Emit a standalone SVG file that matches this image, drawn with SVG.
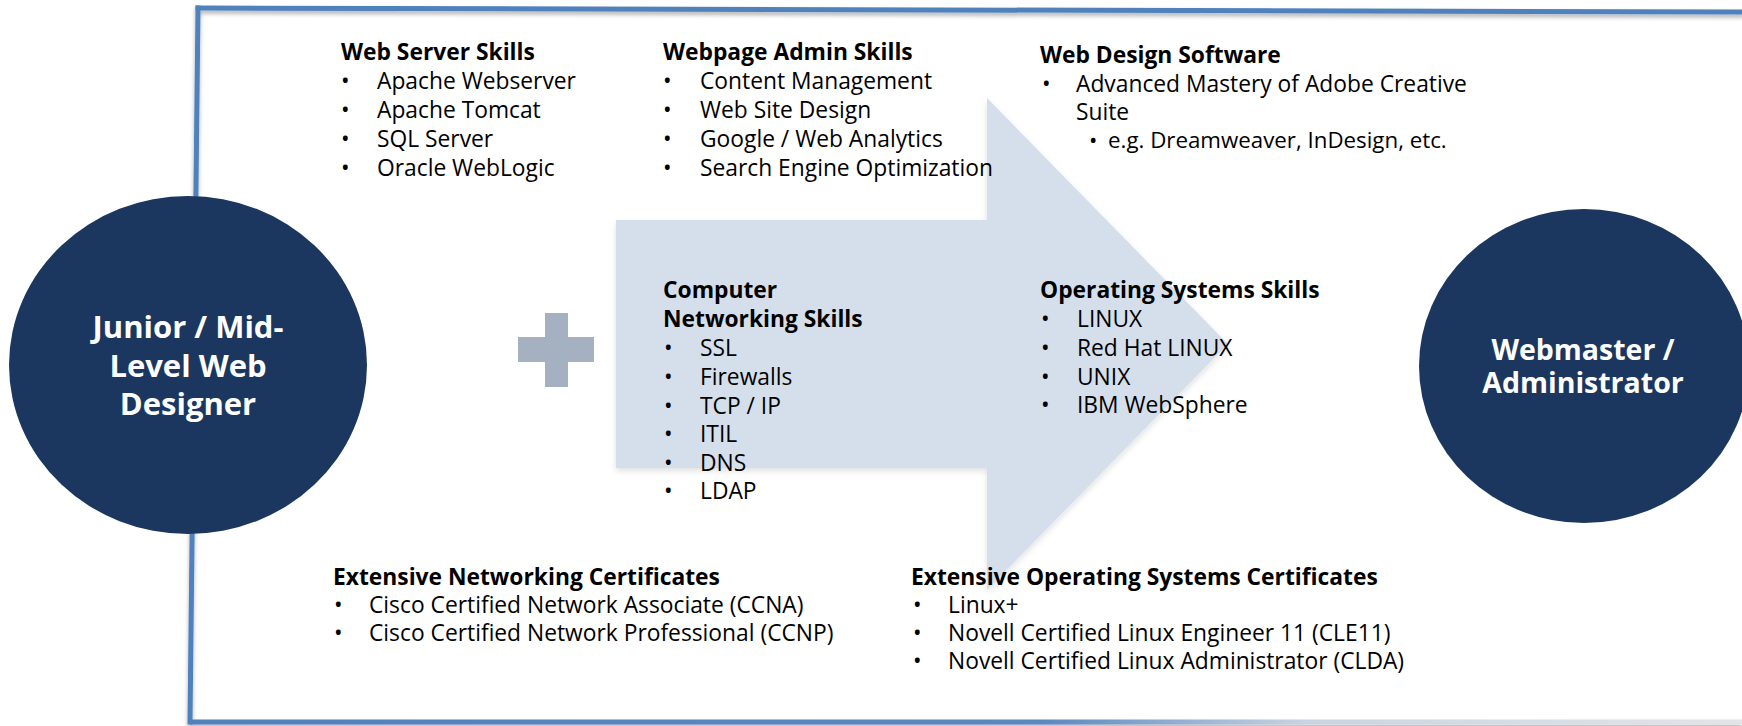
<svg xmlns="http://www.w3.org/2000/svg" width="1742" height="726" viewBox="0 0 1742 726">
<defs>
<style>
.t{font-family:"Open Sans","Noto Sans","Liberation Sans",sans-serif;font-size:22.8px;fill:#000}
.h{font-weight:700}
.s{font-size:22.3px}
.c{font-family:"Open Sans","Noto Sans","Liberation Sans",sans-serif;font-weight:700;fill:#fff;text-anchor:middle}
.node{fill:#1B375F}
.fr{fill:none;stroke:#4F81BD;stroke-width:5;stroke-linecap:square}
</style>
<filter id="sh" x="-5%" y="-50%" width="110%" height="200%">
<feDropShadow dx="0" dy="3" stdDeviation="2" flood-color="#000" flood-opacity="0.3"/>
</filter>
<filter id="ash" x="-5%" y="-5%" width="110%" height="115%">
<feDropShadow dx="0" dy="3" stdDeviation="3" flood-color="#000" flood-opacity="0.12"/>
</filter>
<linearGradient id="bot" gradientUnits="userSpaceOnUse" x1="190" y1="0" x2="1742" y2="0">
<stop offset="0" stop-color="#4F81BD"/>
<stop offset="0.55" stop-color="#5A88C0"/>
<stop offset="0.72" stop-color="#C9D4E2"/>
<stop offset="1" stop-color="#E2E4E8"/>
</linearGradient>
</defs>
<rect width="1742" height="726" fill="#fff"/>

<g id="frame" filter="url(#sh)">
<path class="fr" d="M198 8 L1742 12"/>
<path class="fr" d="M198 8 L190 722"/>
<path d="M190 722 L1742 722" fill="none" stroke="url(#bot)" stroke-width="5"/>
</g>

<g id="connectors">
<polygon points="616,220 987,220 987,98 1228,344 987,590 987,468 616,468" fill="#D5DFEB" filter="url(#ash)"/>
</g>

<g id="plus">
<rect x="518" y="337" width="76" height="25" fill="#A5B0C1"/>
<rect x="545" y="313" width="23" height="74" fill="#A5B0C1"/>
</g>

<g id="node-junior">
<ellipse class="node" cx="188" cy="365" rx="179" ry="169"/>
<text class="c" x="188" y="338" font-size="31">Junior / Mid-</text>
<text class="c" x="188" y="377" font-size="31">Level Web</text>
<text class="c" x="188" y="415" font-size="31">Designer</text>
</g>

<g id="node-webmaster">
<ellipse class="node" cx="1584" cy="366" rx="165" ry="157"/>
<text class="c" x="1583" y="360" font-size="28.5">Webmaster /</text>
<text class="c" x="1583" y="393" font-size="28.5">Administrator</text>
</g>

<g id="web-server-skills">
<text class="t h" x="341" y="60">Web Server Skills</text>
<text class="t" x="341" y="89">•</text><text class="t" x="377" y="89">Apache Webserver</text>
<text class="t" x="341" y="118">•</text><text class="t" x="377" y="118">Apache Tomcat</text>
<text class="t" x="341" y="147">•</text><text class="t" x="377" y="147">SQL Server</text>
<text class="t" x="341" y="176">•</text><text class="t" x="377" y="176">Oracle WebLogic</text>
</g>

<g id="webpage-admin-skills">
<text class="t h" x="663" y="60">Webpage Admin Skills</text>
<text class="t" x="663" y="89">•</text><text class="t" x="700" y="89">Content Management</text>
<text class="t" x="663" y="118">•</text><text class="t" x="700" y="118">Web Site Design</text>
<text class="t" x="663" y="147">•</text><text class="t" x="700" y="147">Google / Web Analytics</text>
<text class="t" x="663" y="176">•</text><text class="t" x="700" y="176">Search Engine Optimization</text>
</g>

<g id="web-design-software">
<text class="t h" x="1040" y="63">Web Design Software</text>
<text class="t" x="1042" y="92">•</text><text class="t" x="1076" y="92">Advanced Mastery of Adobe Creative</text>
<text class="t" x="1076" y="120">Suite</text>
<text class="t s" x="1089" y="148">•</text><text class="t s" x="1108" y="148">e.g. Dreamweaver, InDesign, etc.</text>
</g>

<g id="computer-networking-skills">
<text class="t h" x="663" y="298">Computer</text>
<text class="t h" x="663" y="327">Networking Skills</text>
<text class="t" x="664" y="356">•</text><text class="t" x="700" y="356">SSL</text>
<text class="t" x="664" y="385">•</text><text class="t" x="700" y="385">Firewalls</text>
<text class="t" x="664" y="414">•</text><text class="t" x="700" y="414">TCP / IP</text>
<text class="t" x="664" y="442">•</text><text class="t" x="700" y="442">ITIL</text>
<text class="t" x="664" y="471">•</text><text class="t" x="700" y="471">DNS</text>
<text class="t" x="664" y="499">•</text><text class="t" x="700" y="499">LDAP</text>
</g>

<g id="operating-systems-skills">
<text class="t h" x="1040" y="298">Operating Systems Skills</text>
<text class="t" x="1041" y="327">•</text><text class="t" x="1077" y="327">LINUX</text>
<text class="t" x="1041" y="356">•</text><text class="t" x="1077" y="356">Red Hat LINUX</text>
<text class="t" x="1041" y="385">•</text><text class="t" x="1077" y="385">UNIX</text>
<text class="t" x="1041" y="413">•</text><text class="t" x="1077" y="413">IBM WebSphere</text>
</g>

<g id="networking-certificates">
<text class="t h" x="333" y="585">Extensive Networking Certificates</text>
<text class="t" x="334" y="613">•</text><text class="t" x="369" y="613">Cisco Certified Network Associate (CCNA)</text>
<text class="t" x="334" y="641">•</text><text class="t" x="369" y="641">Cisco Certified Network Professional (CCNP)</text>
</g>

<g id="os-certificates">
<text class="t h" x="911" y="585">Extensive Operating Systems Certificates</text>
<text class="t" x="913" y="613">•</text><text class="t" x="948" y="613">Linux+</text>
<text class="t" x="913" y="641">•</text><text class="t" x="948" y="641">Novell Certified Linux Engineer 11 (CLE11)</text>
<text class="t" x="913" y="669">•</text><text class="t" x="948" y="669">Novell Certified Linux Administrator (CLDA)</text>
</g>
</svg>
